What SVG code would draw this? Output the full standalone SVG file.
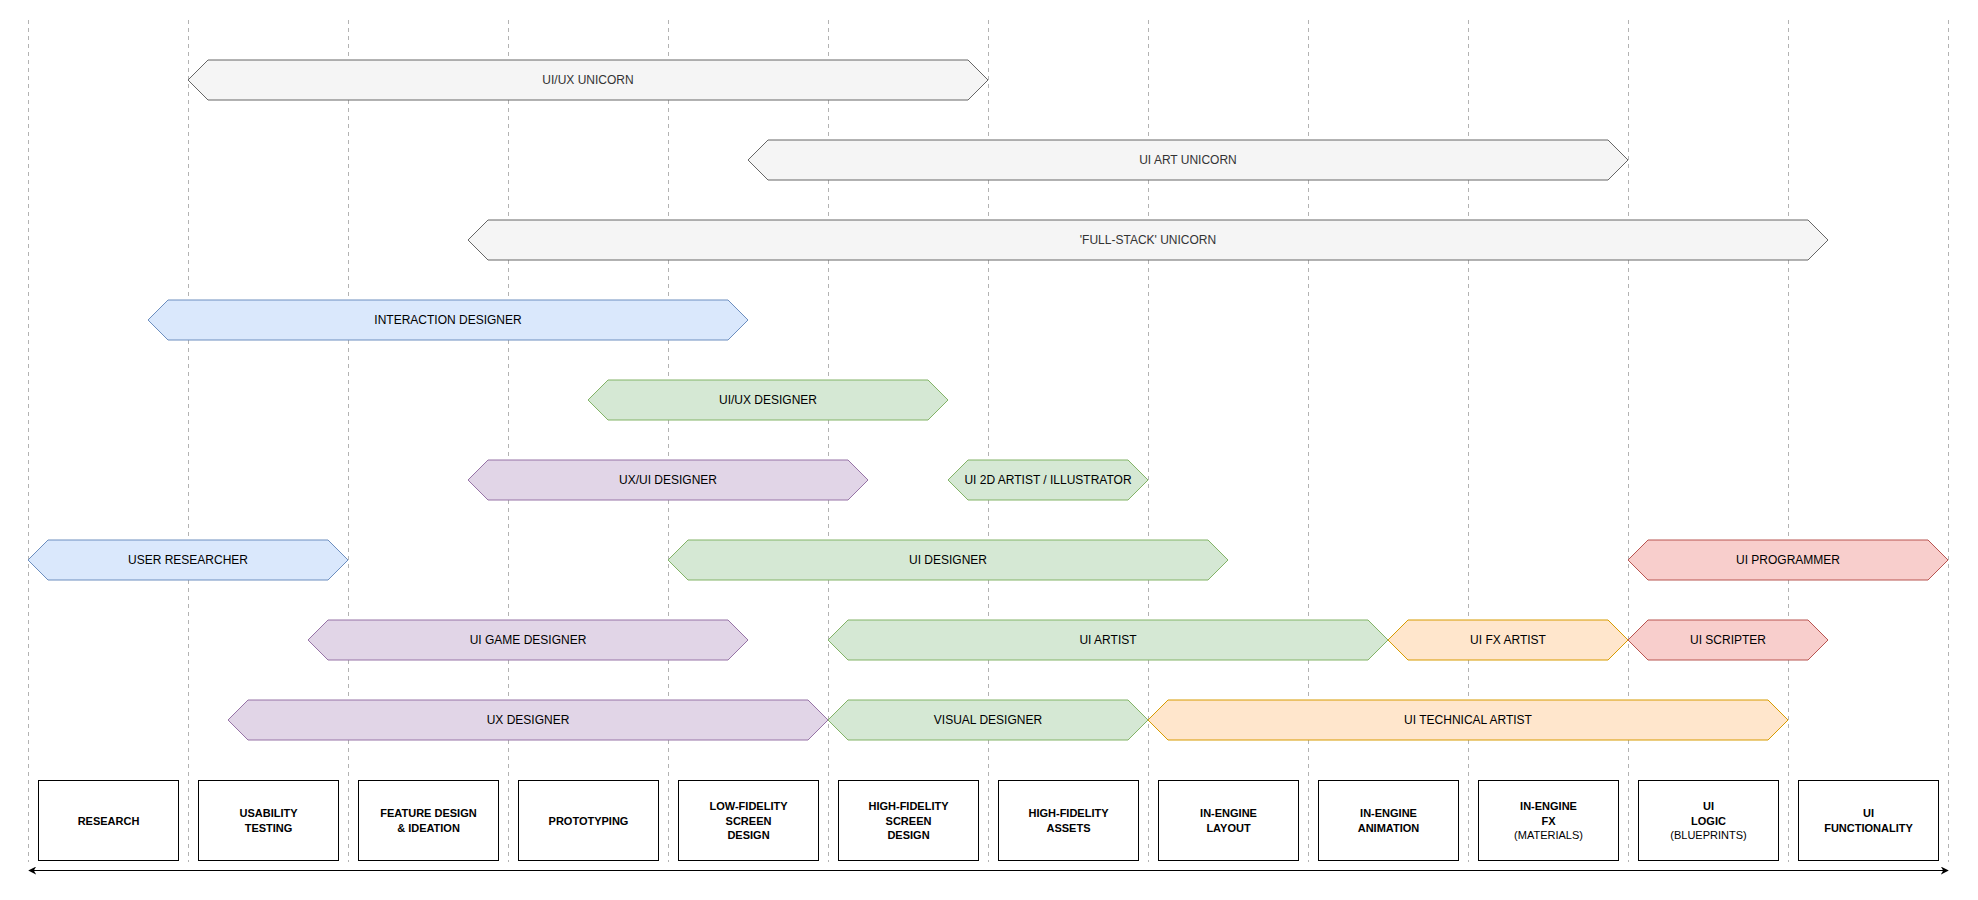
<svg xmlns="http://www.w3.org/2000/svg" width="1978" height="900" viewBox="0 0 1978 900">
<defs>
<style>
.bg{fill:#ffffff}
.guide{stroke:#b3b3b3;stroke-width:1;stroke-dasharray:4 4;fill:none}
.bar{stroke-width:1}
.gray{fill:#f5f5f5;stroke:#666666}
.blue{fill:#dae8fc;stroke:#6c8ebf}
.green{fill:#d5e8d4;stroke:#82b366}
.purple{fill:#e1d5e7;stroke:#9673a6}
.red{fill:#f8cecc;stroke:#b85450}
.orange{fill:#ffe6cc;stroke:#d79b00}
.lbl{font-family:"Liberation Sans",Arial,Helvetica,sans-serif;font-size:12px;text-anchor:middle;fill:#000000}
.lbl.dim{fill:#333333}
.box{fill:#ffffff;stroke:#000000;stroke-width:1}
.blbl{font-family:"Liberation Sans",Arial,Helvetica,sans-serif;font-size:11px;font-weight:bold;text-anchor:middle;fill:#000000}
.blbl .n{font-weight:normal}
.axis{stroke:#000000;stroke-width:1;fill:none}
</style>
<marker id="ah" viewBox="0 0 10 10" refX="9" refY="5" markerWidth="8" markerHeight="8" markerUnits="userSpaceOnUse" orient="auto-start-reverse">
<path d="M0,0 L10,5 L0,10 L3,5 Z" fill="#000000"/>
</marker>
</defs>
<rect class="bg" x="0" y="0" width="1978" height="900"/>

<g id="guides">
<line class="guide" x1="28.5" y1="20" x2="28.5" y2="862"/>
<line class="guide" x1="188.5" y1="20" x2="188.5" y2="862"/>
<line class="guide" x1="348.5" y1="20" x2="348.5" y2="862"/>
<line class="guide" x1="508.5" y1="20" x2="508.5" y2="862"/>
<line class="guide" x1="668.5" y1="20" x2="668.5" y2="862"/>
<line class="guide" x1="828.5" y1="20" x2="828.5" y2="862"/>
<line class="guide" x1="988.5" y1="20" x2="988.5" y2="862"/>
<line class="guide" x1="1148.5" y1="20" x2="1148.5" y2="862"/>
<line class="guide" x1="1308.5" y1="20" x2="1308.5" y2="862"/>
<line class="guide" x1="1468.5" y1="20" x2="1468.5" y2="862"/>
<line class="guide" x1="1628.5" y1="20" x2="1628.5" y2="862"/>
<line class="guide" x1="1788.5" y1="20" x2="1788.5" y2="862"/>
<line class="guide" x1="1948.5" y1="20" x2="1948.5" y2="862"/>
</g>

<g id="connectors">
<line class="axis" x1="29" y1="870.5" x2="1948" y2="870.5" marker-start="url(#ah)" marker-end="url(#ah)"/>
</g>

<!-- Row 0 -->
<g id="ui-ux-unicorn">
<polygon class="bar gray" points="188,80 208,60 968,60 988,80 968,100 208,100"/>
<text class="lbl dim" x="588" y="84">UI/UX UNICORN</text>
</g>
<!-- Row 1 -->
<g id="ui-art-unicorn">
<polygon class="bar gray" points="748,160 768,140 1608,140 1628,160 1608,180 768,180"/>
<text class="lbl dim" x="1188" y="164">UI ART UNICORN</text>
</g>
<!-- Row 2 -->
<g id="full-stack-unicorn">
<polygon class="bar gray" points="468,240 488,220 1808,220 1828,240 1808,260 488,260"/>
<text class="lbl dim" x="1148" y="244">'FULL-STACK' UNICORN</text>
</g>
<!-- Row 3 -->
<g id="interaction-designer">
<polygon class="bar blue" points="148,320 168,300 728,300 748,320 728,340 168,340"/>
<text class="lbl" x="448" y="324">INTERACTION DESIGNER</text>
</g>
<!-- Row 4 -->
<g id="ui-ux-designer">
<polygon class="bar green" points="588,400 608,380 928,380 948,400 928,420 608,420"/>
<text class="lbl" x="768" y="404">UI/UX DESIGNER</text>
</g>
<!-- Row 5 -->
<g id="ux-ui-designer">
<polygon class="bar purple" points="468,480 488,460 848,460 868,480 848,500 488,500"/>
<text class="lbl" x="668" y="484">UX/UI DESIGNER</text>
</g>
<g id="ui-2d-artist">
<polygon class="bar green" points="948,480 968,460 1128,460 1148,480 1128,500 968,500"/>
<text class="lbl" x="1048" y="484">UI 2D ARTIST / ILLUSTRATOR</text>
</g>
<!-- Row 6 -->
<g id="user-researcher">
<polygon class="bar blue" points="28,560 48,540 328,540 348,560 328,580 48,580"/>
<text class="lbl" x="188" y="564">USER RESEARCHER</text>
</g>
<g id="ui-designer">
<polygon class="bar green" points="668,560 688,540 1208,540 1228,560 1208,580 688,580"/>
<text class="lbl" x="948" y="564">UI DESIGNER</text>
</g>
<g id="ui-programmer">
<polygon class="bar red" points="1628,560 1648,540 1928,540 1948,560 1928,580 1648,580"/>
<text class="lbl" x="1788" y="564">UI PROGRAMMER</text>
</g>
<!-- Row 7 -->
<g id="ui-game-designer">
<polygon class="bar purple" points="308,640 328,620 728,620 748,640 728,660 328,660"/>
<text class="lbl" x="528" y="644">UI GAME DESIGNER</text>
</g>
<g id="ui-artist">
<polygon class="bar green" points="828,640 848,620 1368,620 1388,640 1368,660 848,660"/>
<text class="lbl" x="1108" y="644">UI ARTIST</text>
</g>
<g id="ui-fx-artist">
<polygon class="bar orange" points="1388,640 1408,620 1608,620 1628,640 1608,660 1408,660"/>
<text class="lbl" x="1508" y="644">UI FX ARTIST</text>
</g>
<g id="ui-scripter">
<polygon class="bar red" points="1628,640 1648,620 1808,620 1828,640 1808,660 1648,660"/>
<text class="lbl" x="1728" y="644">UI SCRIPTER</text>
</g>
<!-- Row 8 -->
<g id="ux-designer">
<polygon class="bar purple" points="228,720 248,700 808,700 828,720 808,740 248,740"/>
<text class="lbl" x="528" y="724">UX DESIGNER</text>
</g>
<g id="visual-designer">
<polygon class="bar green" points="828,720 848,700 1128,700 1148,720 1128,740 848,740"/>
<text class="lbl" x="988" y="724">VISUAL DESIGNER</text>
</g>
<g id="ui-technical-artist">
<polygon class="bar orange" points="1148,720 1168,700 1768,700 1788,720 1768,740 1168,740"/>
<text class="lbl" x="1468" y="724">UI TECHNICAL ARTIST</text>
</g>

<!-- Stage boxes -->
<g id="stage-research">
<rect class="box" x="38.5" y="780.5" width="140" height="80"/>
<text class="blbl" x="108.5" y="824.5">RESEARCH</text>
</g>
<g id="stage-usability">
<rect class="box" x="198.5" y="780.5" width="140" height="80"/>
<text class="blbl" x="268.5" y="817">USABILITY</text>
<text class="blbl" x="268.5" y="832">TESTING</text>
</g>
<g id="stage-feature">
<rect class="box" x="358.5" y="780.5" width="140" height="80"/>
<text class="blbl" x="428.5" y="817">FEATURE DESIGN</text>
<text class="blbl" x="428.5" y="832">&amp; IDEATION</text>
</g>
<g id="stage-prototyping">
<rect class="box" x="518.5" y="780.5" width="140" height="80"/>
<text class="blbl" x="588.5" y="824.5">PROTOTYPING</text>
</g>
<g id="stage-lofi">
<rect class="box" x="678.5" y="780.5" width="140" height="80"/>
<text class="blbl" x="748.5" y="809.5">LOW-FIDELITY</text>
<text class="blbl" x="748.5" y="824.5">SCREEN</text>
<text class="blbl" x="748.5" y="839">DESIGN</text>
</g>
<g id="stage-hifi">
<rect class="box" x="838.5" y="780.5" width="140" height="80"/>
<text class="blbl" x="908.5" y="809.5">HIGH-FIDELITY</text>
<text class="blbl" x="908.5" y="824.5">SCREEN</text>
<text class="blbl" x="908.5" y="839">DESIGN</text>
</g>
<g id="stage-hifi-assets">
<rect class="box" x="998.5" y="780.5" width="140" height="80"/>
<text class="blbl" x="1068.5" y="817">HIGH-FIDELITY</text>
<text class="blbl" x="1068.5" y="832">ASSETS</text>
</g>
<g id="stage-layout">
<rect class="box" x="1158.5" y="780.5" width="140" height="80"/>
<text class="blbl" x="1228.5" y="817">IN-ENGINE</text>
<text class="blbl" x="1228.5" y="832">LAYOUT</text>
</g>
<g id="stage-animation">
<rect class="box" x="1318.5" y="780.5" width="140" height="80"/>
<text class="blbl" x="1388.5" y="817">IN-ENGINE</text>
<text class="blbl" x="1388.5" y="832">ANIMATION</text>
</g>
<g id="stage-fx">
<rect class="box" x="1478.5" y="780.5" width="140" height="80"/>
<text class="blbl" x="1548.5" y="809.5">IN-ENGINE</text>
<text class="blbl" x="1548.5" y="824.5">FX</text>
<text class="blbl" x="1548.5" y="839"><tspan class="n">(MATERIALS)</tspan></text>
</g>
<g id="stage-logic">
<rect class="box" x="1638.5" y="780.5" width="140" height="80"/>
<text class="blbl" x="1708.5" y="809.5">UI</text>
<text class="blbl" x="1708.5" y="824.5">LOGIC</text>
<text class="blbl" x="1708.5" y="839"><tspan class="n">(BLUEPRINTS)</tspan></text>
</g>
<g id="stage-functionality">
<rect class="box" x="1798.5" y="780.5" width="140" height="80"/>
<text class="blbl" x="1868.5" y="817">UI</text>
<text class="blbl" x="1868.5" y="832">FUNCTIONALITY</text>
</g>
</svg>
